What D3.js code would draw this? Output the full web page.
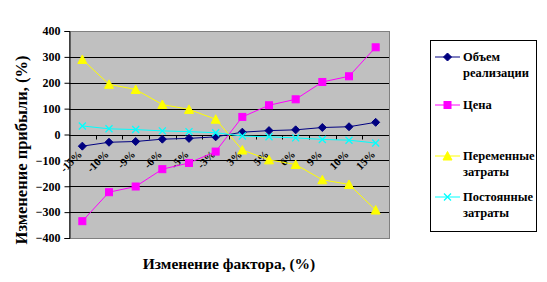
<!DOCTYPE html>
<html>
<head>
<meta charset="utf-8">
<script src="https://cdn.jsdelivr.net/npm/d3@7"></script>
<style>
  body { margin: 0; background: #fff; }
  text { font-family: "Liberation Serif", "DejaVu Serif", serif; font-weight: bold; }
</style>
</head>
<body>
<div id="chart"></div>
<script>
var categories = ['-15%', '-10%', '-9%', '-6%', '-5%', '-3%', '3%', '5%', '6%', '9%', '10%', '15%'];
var volume = [-45, -30, -27, -18, -15, -9, 9, 15, 18, 27, 30, 47];
var price = [-335, -223, -201, -134, -110, -66, 68, 113, 136, 203, 225, 337];
var varCosts = [290, 194, 174, 116, 97, 59, -60, -98, -116, -175, -193, -292];
var fixedCosts = [33, 22, 19, 14, 11, 7, -6, -9, -13, -19, -22, -33];
var yTicks = [-400, -300, -200, -100, 0, 100, 200, 300, 400];

var series = [
  {name: ['Объем', 'реализации'], values: volume, color: '#000080', marker: 'diamond'},
  {name: ['Цена'], values: price, color: '#FF00FF', marker: 'square'},
  {name: ['Переменные', 'затраты'], values: varCosts, color: '#FFFF00', marker: 'triangle'},
  {name: ['Постоянные', 'затраты'], values: fixedCosts, color: '#00FFFF', marker: 'cross'}
];

var svg = d3.select('#chart').append('svg')
  .attr('width', 547).attr('height', 282);

var pLeft = 69, pRight = 389, pTop = 31, pBottom = 238;

var x = d3.scaleBand().domain(categories).range([pLeft, pRight]);
var y = d3.scaleLinear().domain([-400, 400]).range([pBottom, pTop]);

// plot area
svg.append('rect')
  .attr('x', pLeft + 0.5).attr('y', pTop + 0.5)
  .attr('width', pRight - pLeft).attr('height', pBottom - pTop)
  .attr('fill', '#C0C0C0').attr('stroke', '#808080').attr('stroke-width', 1);

// grid
svg.append('g').selectAll('line')
  .data(yTicks.filter(function(d) { return d > -400 && d < 400; }))
  .enter().append('line')
  .attr('x1', pLeft).attr('x2', pRight)
  .attr('y1', function(d) { return Math.round(y(d)) + 0.5; })
  .attr('y2', function(d) { return Math.round(y(d)) + 0.5; })
  .attr('stroke', '#000').attr('stroke-width', 1);

// y axis
var yAxis = svg.append('g')
  .attr('transform', 'translate(' + (pLeft + 0.5) + ',0)')
  .call(d3.axisLeft(y).tickValues(yTicks).tickSize(5).tickPadding(4));
yAxis.select('.domain').attr('stroke', '#000');
yAxis.selectAll('line').attr('stroke', '#000');
yAxis.selectAll('text').style('font-size', '12px').attr('fill', '#000')
  .style('font-family', '"Liberation Serif", serif').style('font-weight', 'bold');

// x axis at zero
var y0 = Math.round(y(0)) + 0.5;
var xAxis = svg.append('g').attr('transform', 'translate(0,' + y0 + ')');
xAxis.append('line').attr('x1', pLeft).attr('x2', pRight).attr('stroke', '#000');
xAxis.selectAll('line.tk')
  .data(d3.range(1, categories.length))
  .enter().append('line')
  .attr('class', 'tk')
  .attr('x1', function(i) { return Math.round(pLeft + i * x.bandwidth()) + 0.5; })
  .attr('x2', function(i) { return Math.round(pLeft + i * x.bandwidth()) + 0.5; })
  .attr('y1', 0).attr('y2', 4)
  .attr('stroke', '#000');
xAxis.selectAll('text.lab')
  .data(categories)
  .enter().append('text')
  .attr('class', 'lab')
  .attr('text-anchor', 'end')
  .style('font-size', '11px')
  .attr('transform', function(d) {
    return 'translate(' + (x(d) + x.bandwidth() / 2 - 5) + ',14) rotate(-45)';
  })
  .attr('dy', '0.7em')
  .text(function(d) { return d; });

// markers
function drawMarker(g, type, color) {
  if (type === 'diamond') {
    g.append('path').attr('d', 'M0,-4L4,0L0,4L-4,0Z').attr('fill', color).attr('stroke', color);
  } else if (type === 'square') {
    g.append('rect').attr('x', -3.5).attr('y', -3.5).attr('width', 7).attr('height', 7)
      .attr('fill', color).attr('stroke', color);
  } else if (type === 'triangle') {
    g.append('path').attr('d', 'M0,-4.5L4.5,4L-4.5,4Z').attr('fill', color).attr('stroke', color);
  } else {
    g.append('path').attr('d', 'M-3.5,-3.5L3.5,3.5M-3.5,3.5L3.5,-3.5').attr('stroke', color).attr('stroke-width', 1.3);
  }
}

var line = d3.line()
  .x(function(d, i) { return x(categories[i]) + x.bandwidth() / 2; })
  .y(function(d) { return y(d); });

series.forEach(function(s) {
  svg.append('path')
    .datum(s.values)
    .attr('d', line)
    .attr('fill', 'none')
    .attr('stroke', s.color)
    .attr('stroke-width', 1);
  s.values.forEach(function(v, i) {
    var g = svg.append('g')
      .attr('transform', 'translate(' + (x(categories[i]) + x.bandwidth() / 2) + ',' + y(v) + ')');
    drawMarker(g, s.marker, s.color);
  });
});

// axis titles
svg.append('text')
  .attr('x', 229).attr('y', 269)
  .attr('text-anchor', 'middle')
  .style('font-size', '15.5px')
  .text('Изменение фактора, (%)');

svg.append('text')
  .attr('transform', 'translate(27,150) rotate(-90)')
  .attr('text-anchor', 'middle')
  .style('font-size', '16.5px')
  .text('Изменение прибыли, (%)');

// legend
svg.append('rect')
  .attr('x', 430.5).attr('y', 40.5).attr('width', 106).attr('height', 191)
  .attr('fill', '#fff').attr('stroke', '#000');

var legendY = [57, 105, 156, 197];
series.forEach(function(s, i) {
  var g = svg.append('g').attr('transform', 'translate(0,' + legendY[i] + ')');
  g.append('line').attr('x1', 435).attr('x2', 460).attr('y1', 0).attr('y2', 0)
    .attr('stroke', s.color).attr('stroke-width', 1);
  var m = g.append('g').attr('transform', 'translate(447.5,0)');
  drawMarker(m, s.marker, s.color);
  s.name.forEach(function(t, j) {
    g.append('text')
      .attr('x', 463).attr('y', j * 16)
      .attr('dy', '0.35em')
      .style('font-size', '12.5px')
      .text(t);
  });
});
</script>
</body>
</html>
